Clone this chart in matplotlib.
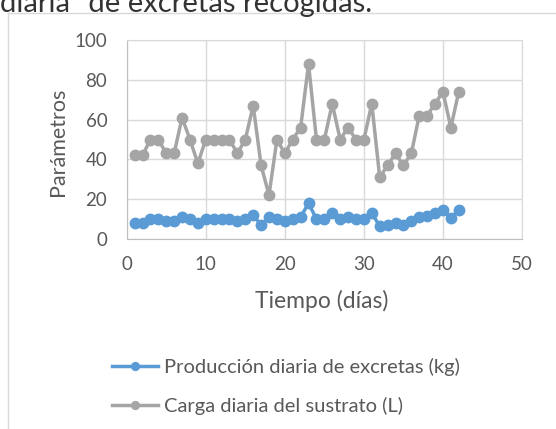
import matplotlib
matplotlib.use("Agg")
import matplotlib.pyplot as plt
from matplotlib.lines import Line2D

plt.rcParams['font.family'] = ['Lato', 'DejaVu Sans']

# day numbers and the two series
dias = list(range(1, 43))
excretas = [8, 8, 10, 10, 9, 9, 11, 10, 8, 10, 10, 10, 10, 9, 10, 12, 7, 11, 10, 9, 10,
            11, 18, 10, 10, 13, 10, 11, 10, 10, 13, 6.5, 7, 8, 7, 9, 11, 11.5, 13, 14.5, 10.5, 14.5]
sustrato = [42, 42, 50, 50, 43, 43, 61, 50, 38, 50, 50, 50, 50, 43, 50, 67, 37, 22, 50, 43, 50,
            56, 88, 50, 50, 68, 50, 56, 50, 50, 68, 31, 37, 43, 37, 43, 62, 62, 68, 74, 56, 74]

x_ticks = [0, 10, 20, 30, 40, 50]
y_ticks = [0, 20, 40, 60, 80, 100]

blue = '#5b9bd5'
gray = '#a5a5a5'
txt = '#595959'

W, H = 556, 429
fig = plt.figure(figsize=(W / 100, H / 100), dpi=100)
ax = fig.add_axes([126.7 / W, 1 - 239 / H, (522 - 126.7) / W, (239 - 40) / H])

ax.plot(dias, excretas, color=blue, linewidth=2.5, marker='o', markersize=7.5,
        label='Producción diaria de excretas (kg)', zorder=3)
ax.plot(dias, sustrato, color=gray, linewidth=2.5, marker='o', markersize=7.5,
        label='Carga diaria del sustrato (L)', zorder=3)

ax.set_xlim(0, 50)
ax.set_ylim(0, 100)
ax.set_xticks(x_ticks)
ax.set_yticks(y_ticks)
ax.tick_params(length=0, labelsize=13.5, colors=txt)
ax.tick_params(axis='x', pad=12)
ax.tick_params(axis='y', pad=14)
ax.grid(color='#d9d9d9', linewidth=1)
ax.set_axisbelow(True)
for s in ['top', 'right']:
    ax.spines[s].set_color('#d9d9d9')
for s in ['left', 'bottom']:
    ax.spines[s].set_color('#bfbfbf')

fig.text(58 / W, 1 - 142 / H, 'Parámetros', rotation=90, ha='center', va='center',
         fontsize=15.5, color=txt)
fig.text(322 / W, 1 - 301 / H, 'Tiempo (días)', ha='center', va='center',
         fontsize=16.5, color=txt)

leg = fig.legend(loc='upper left', bbox_to_anchor=(112 / W, 1 - 358 / H), frameon=False,
                 fontsize=14.5, handlelength=2.3, handletextpad=0.3, labelspacing=1.05,
                 borderpad=0, borderaxespad=0, markerscale=0.75)
for t in leg.get_texts():
    t.set_color(txt)

# document text cut off above the chart, and the chart frame
fig.text(0, 1 - 12 / H, 'diaria" de excretas recogidas.', ha='left', va='baseline',
         fontsize=21, color='#333333')
fig.add_artist(Line2D([8 / W, 8 / W], [0, 1 - 13 / H], color='#d9d9d9', linewidth=1))
fig.add_artist(Line2D([8 / W, 1], [1 - 13 / H, 1 - 13 / H], color='#d9d9d9', linewidth=1))

fig.savefig('out.png', dpi=100)
